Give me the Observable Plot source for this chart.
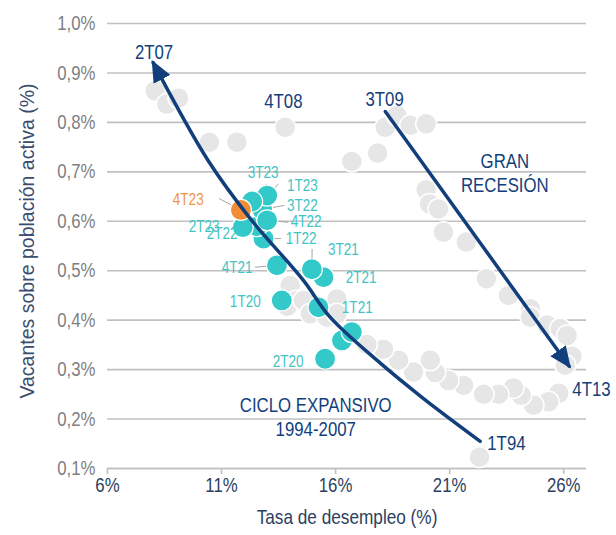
<!DOCTYPE html>
<html>
<head>
<meta charset="utf-8">
<script src="https://cdn.jsdelivr.net/npm/d3@7"></script>
<script src="https://cdn.jsdelivr.net/npm/@observablehq/plot@0.6"></script>
<style>
  html, body { margin: 0; padding: 0; background: #ffffff; }
  #chart svg { display: block; }
</style>
</head>
<body>
<div id="chart"></div>
<script>
// ---------- DATA ----------
// Historical quarters 1T94-4T19 (grey bubbles): unemployment rate (%) and vacancies over active population (%)
const histUnemp = [
  8.09, 8.60, 9.11, 10.47, 11.67, 13.79,
  16.71, 17.84, 18.18, 18.69, 19.27, 19.97,
  19.97, 20.12, 20.51, 20.73, 21.73, 22.61, 23.58, 24.54, 24.54, 25.27, 25.85, 26.15, 26.36, 26.07,
  25.78, 25.34, 24.68, 24.14, 23.80, 23.14, 22.49, 21.61, 20.95, 20.37, 20.15, 19.42, 18.76, 18.10, 17.37, 16.64,
  14.01, 14.30, 13.88, 14.59, 14.89, 15.62, 16.06, 16.06,
  22.31
];
const histVac = [
  0.864, 0.837, 0.849, 0.760, 0.760, 0.790,
  0.721, 0.738, 0.790, 0.814, 0.794, 0.797,
  0.664, 0.635, 0.625, 0.578, 0.558, 0.484, 0.450, 0.423, 0.406, 0.390, 0.383, 0.369, 0.327, 0.309,
  0.252, 0.235, 0.228, 0.248, 0.263, 0.250, 0.250, 0.268, 0.278, 0.294, 0.319, 0.295, 0.319, 0.341, 0.351, 0.372,
  0.470, 0.440, 0.428, 0.440, 0.413, 0.406, 0.443, 0.413,
  0.123
];

// Recent quarters 1T20-4T23
const recentLabels = ["1T20","2T20","3T20","4T20","1T21","2T21","3T21","4T21",
                      "1T22","2T22","3T22","4T22","1T23","2T23","3T23","4T23"];
const recentUnemp = [13.64, 15.54, 16.28, 16.71, 15.25, 15.47, 14.96, 13.43,
                     12.84, 12.56, 12.78, 13.00, 13.00, 11.93, 12.34, 11.85];
const recentVac   = [0.440, 0.322, 0.359, 0.376, 0.426, 0.487, 0.503, 0.511,
                     0.565, 0.590, 0.624, 0.602, 0.652, 0.588, 0.640, 0.623];
// Label anchor for each recent quarter (data units)
const recentLabelU = [12.04, 13.92, null, null, 16.95, 17.12, 16.34, 11.68,
                      14.49, 11.03, 14.54, 14.71, 14.54, 10.24, 12.82, 9.54];
const recentLabelV = [0.438, 0.317, null, null, 0.426, 0.486, 0.543, 0.507,
                      0.565, 0.575, 0.632, 0.600, 0.672, 0.590, 0.699, 0.644];
// Leader-line start for labelled quarters (data units), null = none
const leaderU = [null, null, null, null, null, null, 14.97, 12.47,
                 13.61, 11.73, 13.75, 13.92, 13.50, null, 12.99, 10.89];
const leaderV = [null, null, null, null, null, null, 0.544, 0.507,
                 0.565, 0.581, 0.632, 0.598, 0.676, null, 0.676, 0.646];

// Annotations
const notes = ["2T07", "4T08", "3T09", "GRAN\nRECESIÓN", "CICLO EXPANSIVO\n1994-2007"];
const notesU = [8.04, 13.71, 18.15, 23.42, 15.13];
const notesV = [0.943, 0.844, 0.848, 0.700, 0.205];
const sideNotes = ["4T13", "1T94"];
const sideNotesU = [26.38, 22.65];
const sideNotesV = [0.260, 0.151];

// Trajectory arrows (data units)
const expansionU = [22.34, 19.84, 17.96, 15.76, 14.58, 12.25, 10.41, 8.00];
const expansionV = [0.155, 0.242, 0.313, 0.406, 0.481, 0.606, 0.723, 0.921];
const recessionU = [18.18, 26.24];
const recessionV = [0.822, 0.307];

// Axes
const xTicks = [6, 11, 16, 21, 26];
const yTicks = [0.1, 0.2, 0.3, 0.4, 0.5, 0.6, 0.7, 0.8, 0.9, 1.0];
const xTitle = "Tasa de desempleo (%)";
const yTitle = "Vacantes sobre población activa (%)";

// ---------- BUILD ----------
const FONT = '"Liberation Sans",Arial,sans-serif';
const NAVY = "#123f7c";
const TEAL = "#33c9c9";
const TEAL_TXT = "#42c4c4";
const ORANGE = "#f28c36";
const ORANGE_TXT = "#f0943f";
const GREY = "#e6e6e6";

const hist = histUnemp.map((u, i) => ({u, v: histVac[i]}));
const recent = recentLabels.map((q, i) => ({
  q, u: recentUnemp[i], v: recentVac[i],
  lu: recentLabelU[i], lv: recentLabelV[i],
  su: leaderU[i], sv: leaderV[i],
  last: i === recentLabels.length - 1
}));
const recentTeal = recent.filter(d => !d.last);
const recentLast = recent.filter(d => d.last);
const labelled = recent.filter(d => d.lu != null);
const leaders = recent.filter(d => d.su != null);
const expansion = expansionU.map((u, i) => ({u, v: expansionV[i]}));
const recession = recessionU.map((u, i) => ({u, v: recessionV[i]}));
const noteData = notes.map((t, i) => ({t, u: notesU[i], v: notesV[i]}));
const sideData = sideNotes.map((t, i) => ({t, u: sideNotesU[i], v: sideNotesV[i]}));

const chart = Plot.plot({
  width: 616,
  height: 535,
  marginLeft: 107,
  marginRight: 30,
  marginTop: 23,
  marginBottom: 67,
  style: {fontFamily: FONT, fontSize: "20px", background: "#ffffff", overflow: "visible"},
  x: {domain: [6, 27]},
  y: {domain: [0.1, 1.0]},
  marks: [
    Plot.gridY(yTicks, {stroke: "#c0c0c0", strokeOpacity: 1, strokeWidth: 1.6}),
    Plot.ruleY([0.1], {stroke: "#c0c0c0", strokeWidth: 1.6}),
    Plot.axisX(xTicks, {tickFormat: d => d + "%", tickSize: 6, tickPadding: 3, stroke: "#c0c0c0", strokeWidth: 1.6,
      fill: "#2c3f60", fontSize: 20.5, label: null}),
    Plot.axisY(yTicks, {tickFormat: d => d.toFixed(1).replace(".", ",") + "%", tickSize: 0, tickPadding: 12,
      fill: "#7f7f7f", fontSize: 20.5, label: null}),
    Plot.text([xTitle], {frameAnchor: "bottom", dy: 55, fill: "#2c3f60", fontSize: 21}),
    Plot.text([yTitle], {frameAnchor: "left", textAnchor: "middle", rotate: -90, dx: -80, dy: -5,
      fill: "#3a4d70", fontSize: 19.5, className: "no-squeeze"}),

    // leader lines (under the bubbles)
    Plot.link(leaders, {x1: "su", y1: "sv", x2: "u", y2: "v", stroke: "#a6a6a6", strokeWidth: 1}),

    // bubbles
    Plot.dot(hist, {x: "u", y: "v", r: 10.5, fill: GREY, stroke: "#ffffff", strokeWidth: 1.5}),
    Plot.dot(recentTeal, {x: "u", y: "v", r: 10.5, fill: TEAL, stroke: "#ffffff", strokeWidth: 1.2}),
    Plot.dot(recentLast, {x: "u", y: "v", r: 10.5, fill: ORANGE, stroke: "#ffffff", strokeWidth: 1.2}),

    // arrows
    Plot.line(expansion, {x: "u", y: "v", curve: "catmull-rom", stroke: NAVY, strokeWidth: 3.5, className: "traj-arrow"}),
    Plot.line(recession, {x: "u", y: "v", stroke: NAVY, strokeWidth: 3.5, className: "traj-arrow"}),

    // quarter labels
    Plot.text(labelled.filter(d => !d.last), {x: "lu", y: "lv", text: "q", fill: TEAL_TXT, fontSize: 16.5}),
    Plot.text(labelled.filter(d => d.last), {x: "lu", y: "lv", text: "q", fill: ORANGE_TXT, fontSize: 16.5}),

    // annotations
    Plot.text(noteData, {x: "u", y: "v", text: "t", fill: NAVY, fontSize: 20.5, lineHeight: 1.17}),
    Plot.text(sideData, {x: "u", y: "v", text: "t", fill: NAVY, fontSize: 20.5, textAnchor: "start"})
  ]
});

// filled arrow heads on the trajectory lines
const svg = d3.select(chart);
let defs = svg.select("defs");
if (defs.empty()) defs = svg.insert("defs", ":first-child");
defs.append("marker")
  .attr("id", "traj-head")
  .attr("viewBox", "0 -10 22 20")
  .attr("refX", 19)
  .attr("refY", 0)
  .attr("markerUnits", "userSpaceOnUse")
  .attr("markerWidth", 22)
  .attr("markerHeight", 20)
  .attr("orient", "auto")
  .append("path")
  .attr("d", "M0,-9.5L22,0L0,9.5Z")
  .attr("fill", NAVY);
svg.selectAll(".traj-arrow path").attr("marker-end", "url(#traj-head)");

// the reference uses a condensed face: squeeze text horizontally about its anchor
svg.selectAll("text").each(function () {
  if (this.closest(".no-squeeze")) return;
  const t = this.getAttribute("transform") || "";
  this.setAttribute("transform", (t + " scale(0.82,1)").trim());
});

document.getElementById("chart").appendChild(chart);
</script>
</body>
</html>
